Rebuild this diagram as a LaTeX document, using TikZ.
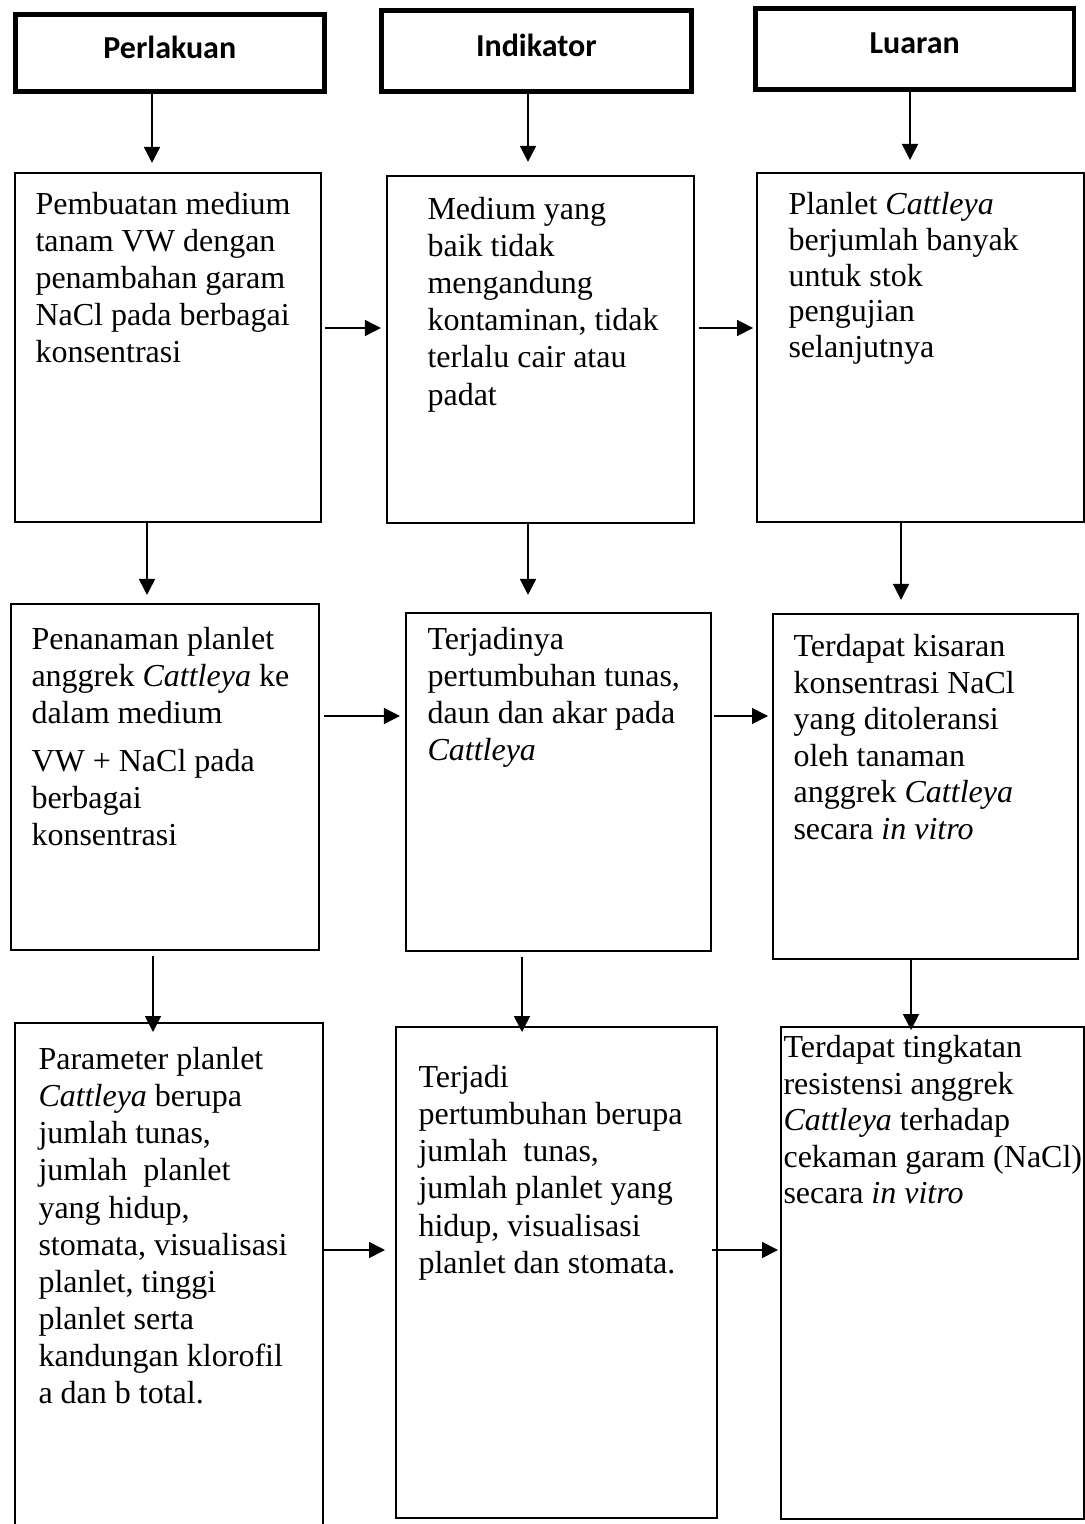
\documentclass[tikz,border=0pt]{standalone}
\usepackage{fontspec}
\setmainfont{Liberation Serif}
\newfontfamily\judulfont{Carlito}
\usetikzlibrary{arrows.meta,positioning,calc}

\tikzset{
  kotak/.style={draw, line width=0.75pt, anchor=north west, inner sep=0pt},
  judul/.style={draw, line width=1.7pt, anchor=north west, inner sep=0pt,
    font=\judulfont\bfseries\fontsize{12}{14}\selectfont, text depth=4pt},
  isi/.style={anchor=north west, inner sep=0pt, align=left,
    font=\fontsize{12}{13.9}\selectfont},
  panah/.style={line width=0.6pt, -{Triangle[length=6pt,width=6pt]}}
}

\begin{document}
\begin{tikzpicture}[x=0.375pt, y=-0.375pt]
  \useasboundingbox (0,0) rectangle (1085,1524);
  % judul kolom
  \node[judul, minimum width=115.9pt, minimum height=28.9pt] (h1) at (13,12) {Perlakuan};
  \node[judul, minimum width=116.3pt, minimum height=30.4pt] (h2) at (379,8) {Indikator};
  \node[judul, minimum width=119.6pt, minimum height=30.4pt] (h3) at (753,6) {Luaran};
  % kotak baris pertama
  \node[kotak, minimum width=114.75pt, minimum height=130.9pt] (b1) at (14,172) {};
  \node[kotak, minimum width=115.1pt, minimum height=130.1pt] (b2) at (386,175) {};
  \node[kotak, minimum width=122.6pt, minimum height=130.9pt] (b3) at (756,172) {};
  % kotak baris kedua
  \node[kotak, minimum width=115.5pt, minimum height=129.75pt] (b4) at (10,603) {};
  \node[kotak, minimum width=114.4pt, minimum height=126.75pt] (b5) at (405,612) {};
  \node[kotak, minimum width=114.4pt, minimum height=129.4pt] (b6) at (772,613) {};
  % kotak baris ketiga
  \node[kotak, minimum width=115.5pt, minimum height=195pt] (b7) at (14,1022) {};
  \node[kotak, minimum width=120.4pt, minimum height=184.1pt] (b8) at (395,1026) {};
  \node[kotak, minimum width=113.6pt, minimum height=184.5pt] (b9) at (780,1026) {};

  \node[isi] (t1) at ([shift={(21,20)}]b1.north west)
    {Pembuatan medium\\ tanam VW dengan\\ penambahan garam\\ NaCl pada berbagai\\ konsentrasi};
  \node[isi] (t2) at ([shift={(41,22)}]b2.north west)
    {Medium yang\\ baik tidak\\ mengandung\\ kontaminan, tidak\\ terlalu cair atau\\ padat};
  \node[isi, font=\fontsize{12}{13.4}\selectfont] (t3) at ([shift={(32,20)}]b3.north west)
    {Planlet \textit{Cattleya}\\ berjumlah banyak\\ untuk stok\\ pengujian\\ selanjutnya};
  \node[isi] (t4) at ([shift={(21,24)}]b4.north west)
    {Penanaman planlet\\ anggrek \textit{Cattleya} ke\\ dalam medium\\[4pt] VW + NaCl pada\\ berbagai\\ konsentrasi};
  \node[isi] (t5) at ([shift={(22,15)}]b5.north west)
    {Terjadinya\\ pertumbuhan tunas,\\ daun dan akar pada\\ \textit{Cattleya}};
  \node[isi, font=\fontsize{12}{13.7}\selectfont] (t6) at ([shift={(21,21)}]b6.north west)
    {Terdapat kisaran\\ konsentrasi NaCl\\ yang ditoleransi\\ oleh tanaman\\ anggrek \textit{Cattleya}\\ secara \textit{in vitro}};
  \node[isi] (t7) at ([shift={(24,25)}]b7.north west)
    {Parameter planlet\\ \textit{Cattleya} berupa\\ jumlah tunas,\\ jumlah\ \ planlet\\ yang hidup,\\ stomata, visualisasi\\ planlet, tinggi\\ planlet serta\\ kandungan klorofil\\ a dan b total.};
  \node[isi] (t8) at ([shift={(23,39)}]b8.north west)
    {Terjadi\\ pertumbuhan berupa\\ jumlah\ \ tunas,\\ jumlah planlet yang\\ hidup, visualisasi\\ planlet dan stomata.};
  \node[isi, font=\fontsize{12}{13.7}\selectfont] (t9) at ([shift={(3,9)}]b9.north west)
    {Terdapat tingkatan\\ resistensi anggrek\\ \textit{Cattleya} terhadap\\ cekaman garam (NaCl)\\ secara \textit{in vitro}};

  % titik bantu untuk panah
  \coordinate (k1) at (152,0); \coordinate (k2) at (528,0); \coordinate (k3) at (910,0);
  \coordinate (k4) at (147,0); \coordinate (k5) at (528,0); \coordinate (k6) at (901,0);
  \coordinate (k7) at (153,0); \coordinate (k8) at (522,0); \coordinate (k9) at (911,0);
  \coordinate (m1) at (0,328); \coordinate (m2) at (0,716); \coordinate (m3) at (0,1250);

  \draw[panah, shorten >=3.4pt] (h1.south -| k1) -- (b1.north -| k1);
  \draw[panah, shorten >=4.9pt] (h2.south -| k2) -- (b2.north -| k2);
  \draw[panah, shorten >=4.5pt] (h3.south -| k3) -- (b3.north -| k3);
  \draw[panah, shorten >=3pt] (b1.south -| k4) -- (b4.north -| k4);
  \draw[panah, shorten >=6.4pt] (b2.south -| k5) -- (b5.north -| k5);
  \draw[panah, shorten >=4.9pt] (b3.south -| k6) -- (b6.north -| k6);
  \draw[panah, shorten <=1.9pt, shorten >=-3.75pt] (b4.south -| k7) -- (b7.north -| k7);
  \draw[panah, shorten <=1.9pt, shorten >=-2.25pt] (b5.south -| k8) -- (b8.north -| k8);
  \draw[panah, shorten >=-1.5pt] (b6.south -| k9) -- (b9.north -| k9);

  \draw[panah, shorten <=1.1pt, shorten >=1.9pt] (b1.east |- m1) -- (b2.west |- m1);
  \draw[panah, shorten <=1.5pt, shorten >=1.1pt] (b2.east |- m1) -- (b3.west |- m1);
  \draw[panah, shorten <=1.5pt, shorten >=1.9pt] (b4.east |- m2) -- (b5.west |- m2);
  \draw[panah, shorten <=0.75pt, shorten >=1.5pt] (b5.east |- m2) -- (b6.west |- m2);
  \draw[panah, shorten >=3.75pt] (b7.east |- m3) -- (b8.west |- m3);
  \draw[panah, shorten <=-2.25pt, shorten >=0.75pt] (b8.east |- m3) -- (b9.west |- m3);
\end{tikzpicture}
\end{document}
